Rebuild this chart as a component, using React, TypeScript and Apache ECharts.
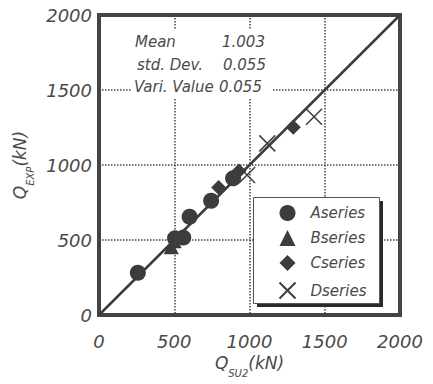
import React, { useEffect, useRef } from "react";
import * as echarts from "echarts";

const axisTicks = [0, 500, 1000, 1500, 2000];
const seriesA: [number, number][] = [[258, 282], [505, 511], [560, 516], [602, 655], [745, 762], [891, 911]];
const seriesB: [number, number][] = [[480, 455], [500, 495]];
const seriesC: [number, number][] = [[795, 850], [930, 960], [1291, 1251]];
const seriesD: [number, number][] = [[984, 933], [1118, 1144], [1429, 1322]];
const unityLine: [number, number][] = [[0, 0], [2000, 2000]];
const statLabels = ["Mean", "std. Dev.", "Vari. Value"];
const statValues = ["1.003", "0.055", "0.055"];

const FONT = "DejaVu Sans";
const DARK = "#3c3c3c";
const TXT = "#4a4a4a";

export default function App() {
  const ref = useRef<HTMLDivElement>(null);
  useEffect(() => {
    if (!ref.current) return;
    const chart = echarts.init(ref.current, null, { renderer: "svg" });
    const cross = "path://M0,0L10,10M10,0L0,10";
    const nameRich = {
      q: { fontSize: 17, fontStyle: "italic", color: TXT, fontFamily: FONT },
      s: { fontSize: 10, fontStyle: "italic", color: TXT, fontFamily: FONT, padding: [20, 0, 0, 0] },
    };
    const fmt = (v: number) => (axisTicks.includes(v) ? String(v) : "");
    const axisCommon = {
      type: "value",
      min: 0,
      max: 2000,
      interval: 500,
      axisLine: { show: false },
      axisTick: { show: false },
      splitLine: { show: true, lineStyle: { color: "#444", width: 1.5, type: [1.5, 1.5] } },
      axisLabel: { fontSize: 18, fontStyle: "italic", color: TXT, fontFamily: FONT, formatter: fmt },
    };
    chart.setOption({
      animation: false,
      grid: { left: 99, right: 33, top: 15, bottom: 69, show: true, borderColor: "#444", borderWidth: 4, backgroundColor: "transparent" },
      xAxis: {
        ...axisCommon,
        axisLabel: { ...axisCommon.axisLabel, margin: 17 },
        name: "{q|Q}{s|SU2}{q|(kN)}",
        nameLocation: "middle",
        nameGap: 33,
        nameTextStyle: { rich: nameRich },
      },
      yAxis: {
        ...axisCommon,
        axisLabel: { ...axisCommon.axisLabel, margin: 7 },
        name: "{q|Q}{s|EXP}{q|(kN)}",
        nameLocation: "middle",
        nameGap: 59,
        nameRotate: 90,
        nameTextStyle: { rich: nameRich },
      },
      legend: {
        orient: "vertical",
        left: 253,
        top: 197,
        padding: [8, 15, 8, 24],
        itemWidth: 16,
        itemHeight: 16,
        itemGap: 9,
        backgroundColor: "transparent",
        borderWidth: 0,
        z: 5,
        textStyle: { fontSize: 15, fontStyle: "italic", color: TXT, fontFamily: FONT, lineHeight: 16, padding: [0, 0, 0, 10] },
        data: [
          { name: "Aseries", icon: "circle" },
          { name: "Bseries", icon: "triangle" },
          { name: "Cseries", icon: "diamond" },
          { name: "Dseries", icon: cross },
        ],
      },
      graphic: [
        { type: "rect", id: "legShadowR", z: 3, shape: { x: 379, y: 201, width: 4, height: 106 }, style: { fill: "#2a2a2a" } },
        { type: "rect", id: "legShadowB", z: 3, shape: { x: 257, y: 303, width: 126, height: 4 }, style: { fill: "#2a2a2a" } },
        { type: "rect", id: "legBox", z: 3, shape: { x: 253.5, y: 197.5, width: 126, height: 106 }, style: { fill: "#fff", stroke: "#555", lineWidth: 1 } },
        { type: "rect", id: "statBox", z: 3, shape: { x: 131, y: 30, width: 141, height: 68 }, style: { fill: "#fff" } },
        ...statLabels.map((t, i) => ({
          type: "text",
          z: 4,
          x: [135, 137, 134][i],
          y: [42, 65, 87][i],
          style: { text: t, fontSize: 15, fontStyle: "italic", fill: TXT, fontFamily: FONT, verticalAlign: "middle" },
        })),
        ...statValues.map((t, i) => ({
          type: "text",
          z: 4,
          x: [222, 223, 219][i],
          y: [42, 65, 87][i],
          style: { text: t, fontSize: 15, fontStyle: "italic", fill: TXT, fontFamily: FONT, verticalAlign: "middle" },
        })),
      ],
      series: [
        { type: "line", data: unityLine, symbol: "none", lineStyle: { color: DARK, width: 2.5 }, z: 2, silent: true },
        { name: "Aseries", type: "scatter", symbol: "circle", symbolSize: 16, data: seriesA, itemStyle: { color: DARK, opacity: 1 }, z: 3 },
        { name: "Bseries", type: "scatter", symbol: "triangle", symbolSize: 15, data: seriesB, itemStyle: { color: DARK, opacity: 1 }, z: 3 },
        { name: "Cseries", type: "scatter", symbol: "diamond", symbolSize: 15, data: seriesC, itemStyle: { color: DARK, opacity: 1 }, z: 3 },
        { name: "Dseries", type: "scatter", symbol: cross, symbolSize: 16, data: seriesD, itemStyle: { color: "none", borderColor: DARK, borderWidth: 1.5, opacity: 1 }, z: 3 },
      ],
    });
    return () => chart.dispose();
  }, []);
  return <div ref={ref} style={{ width: 433, height: 384, position: "absolute", left: 0, top: 0 }} />;
}
